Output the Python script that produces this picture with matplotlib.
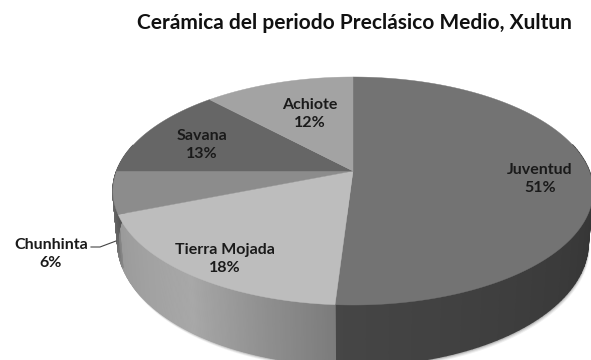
import numpy as np
import matplotlib
matplotlib.use("Agg")
import matplotlib.pyplot as plt
from matplotlib.colors import to_rgb
from matplotlib.patches import Polygon

categories = ["Juventud", "Tierra Mojada", "Chunhinta", "Savana", "Achiote"]
values = [51, 18, 6, 13, 12]
top_colors = ["#737373", "#bdbdbd", "#8c8c8c", "#666666", "#a3a3a3"]
wall_colors = [("#383838", "#333333", "#464646"),
               ("#7c7c7c", "#a8a8a8", "#9a9a9a"),
               ("#8a8a8a", "#6a6a6a", "#555555"),
               ("#666666", "#666666", "#666666"),
               ("#a3a3a3", "#a3a3a3", "#a3a3a3")]
label_pos = [(540, 179), (225, 259), (51, 254), (202, 145), (310, 114)]

W, H = 591, 360
plt.rcParams['font.family'] = ['Lato', 'DejaVu Sans']
fig = plt.figure(figsize=(W/100, H/100), dpi=100)
ax = fig.add_axes([0, 0, 1, 1])
ax.set_xlim(0, W); ax.set_ylim(H, 0); ax.axis("off")

cx, cy, a_, b_, k, depth, shrink = 353, 171, 236.3, 110.5, 0.1754, 50, 0.98
fr = np.cumsum([0] + values) / sum(values)

def pt(t, drop=0.0, sx=1.0):
    ang = 2*np.pi*np.asarray(t)
    w = 1 + k*np.cos(ang)
    return np.c_[cx + sx*a_*np.sin(ang)/w, cy - b_*np.cos(ang)/w + drop/w]

# soft shadow under the front wall
ts = np.linspace(0.2, 0.72, 300)
for off, al in [(4, 0.06), (3, 0.08), (2, 0.12), (1, 0.18)]:
    ax.add_patch(Polygon(pt(ts, depth, shrink) + [off*0.4, off], closed=True, fc="black",
                         ec="none", alpha=al))

# side wall
def wall_colour(i, u):
    c0, c1, c2 = [np.array(to_rgb(c)) for c in wall_colors[i]]
    return c0 + (c1-c0)*u*2 if u < 0.5 else c1 + (c2-c1)*(u-0.5)*2

for i in range(len(values)):
    ts = np.linspace(fr[i], fr[i+1], 120)
    ts = ts[np.cos(2*np.pi*ts) < 0.25]
    for s, e in zip(ts[:-1], ts[1:]):
        col = wall_colour(i, (s - fr[i]) / (fr[i+1] - fr[i]))
        poly = np.r_[pt([s, e]), pt([e, s], depth, shrink)]
        ax.add_patch(Polygon(poly, closed=True, fc=col, ec=col, lw=1.0))

# top slices
for i in range(len(values)):
    ts = np.linspace(fr[i], fr[i+1], 200)
    poly = np.r_[[[cx, cy]], pt(ts)]
    ax.add_patch(Polygon(poly, closed=True, fc=top_colors[i], ec=top_colors[i], lw=0.3))

ax.text(354.5, 23, "Cerámica del periodo Preclásico Medio, Xultun", ha="center", va="center",
        fontsize=15, fontweight="bold", color="#111111")
for name, v, (x, y) in zip(categories, values, label_pos):
    ax.text(x, y, f"{name}\n{v}%", ha="center", va="center", fontsize=11.5,
            fontweight="bold", color="#1a1a1a", linespacing=1.3)
ax.plot([91, 100, 116], [247, 247, 241], color="#444444", lw=0.8)
fig.savefig("out.png", dpi=100)
